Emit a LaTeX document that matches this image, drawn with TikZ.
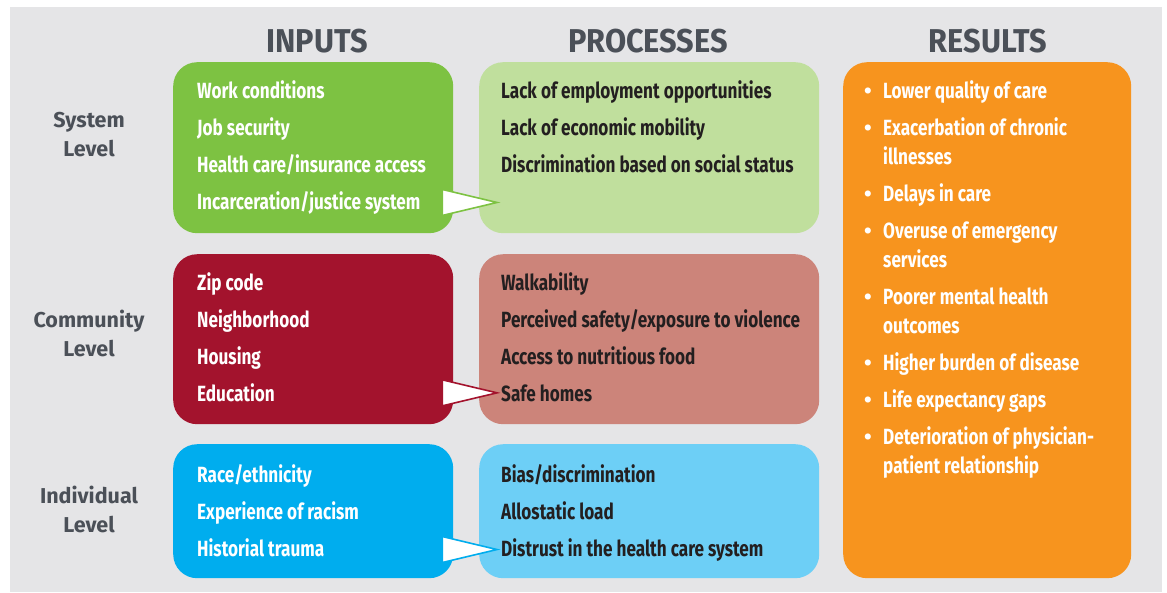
\documentclass[tikz,border=0pt]{standalone}
\usepackage{fontspec}
\setmainfont{Fira Sans}
\newfontfamily\condfont{Fira Sans}[FakeStretch=0.78]
\newfontfamily\headfont{Fira Sans}[FakeStretch=0.93]
\usetikzlibrary{calc}

\definecolor{panel}{HTML}{E5E5E7}
\definecolor{headgray}{HTML}{4B5058}
\definecolor{ingreen}{HTML}{7DC242}
\definecolor{prgreen}{HTML}{C0DF9D}
\definecolor{inred}{HTML}{A3132D}
\definecolor{prred}{HTML}{CC847A}
\definecolor{inblue}{HTML}{00ADEE}
\definecolor{prblue}{HTML}{6DCFF6}
\definecolor{resorange}{HTML}{F7941E}
\definecolor{darktext}{HTML}{231F20}

\tikzset{
  panelbox/.style={anchor=north west, inner sep=0pt, rounded corners=24pt},
  head/.style={anchor=base, inner sep=0pt, text=headgray, font=\headfont\bfseries\fontsize{33}{33}\selectfont},
  lvl/.style={align=center, inner sep=0pt, text=headgray, font=\bfseries\fontsize{21.5}{29}\selectfont},
  itemtext/.style={anchor=base west, inner sep=0pt, font=\condfont\bfseries\fontsize{22}{22}\selectfont},
  intext/.style={itemtext, text=white},
  prtext/.style={itemtext, text=darktext},
  restext/.style={itemtext, text=white},
  bul/.style={anchor=base, inner sep=0pt, text=white, font=\bfseries\fontsize{22}{22}\selectfont},
  flow/.style={fill=white, line width=1.6pt, line join=miter},
}

\begin{document}
\begin{tikzpicture}[x=1pt, y=-1pt]
\useasboundingbox (0,0) rectangle (1167,592);
\fill[white] (0,0) rectangle (1167,592);
\fill[panel] (10,7) rectangle (1162,592);

% column headers
\node[head] (hin) at (317,52) {INPUTS};
\node[head] (hpr) at (648,52) {PROCESSES};
\node[head] (hre) at (988,52) {RESULTS};

% row labels
\node[lvl] (lsys) at (89,134.5) {System\\Level};
\node[lvl] (lcom) at (89,333.5) {Community\\Level};
\node[lvl] (lind) at (89,509.5) {Individual\\Level};

% boxes
\node[panelbox, fill=ingreen, minimum width=280pt, minimum height=171pt] (ig) at (173,62) {};
\node[panelbox, fill=prgreen, minimum width=340pt, minimum height=171pt] (pg) at (479,62) {};
\node[panelbox, fill=inred, minimum width=280pt, minimum height=170pt] (ir) at (173,254) {};
\node[panelbox, fill=prred, minimum width=340pt, minimum height=170pt] (pr) at (479,254) {};
\node[panelbox, fill=inblue, minimum width=280pt, minimum height=134pt] (ib) at (173,444) {};
\node[panelbox, fill=prblue, minimum width=340pt, minimum height=134pt] (pb) at (479,444) {};
\node[panelbox, fill=resorange, minimum width=288pt, minimum height=516pt] (res) at (843,62) {};

% system level
\node[intext] (ig1) at (197,98) {Work conditions};
\node[intext] (ig2) at (197,135) {Job security};
\node[intext] (ig3) at (197,172) {Health care/insurance access};
\node[intext] (ig4) at (197,209) {Incarceration/justice system};
\node[prtext] (pg1) at (501,98) {Lack of employment opportunities};
\node[prtext] (pg2) at (501,135) {Lack of economic mobility};
\node[prtext] (pg3) at (501,172) {Discrimination based on social status};

% community level
\node[intext] (ir1) at (197,290) {Zip code};
\node[intext] (ir2) at (197,327) {Neighborhood};
\node[intext] (ir3) at (197,364) {Housing};
\node[intext] (ir4) at (197,401) {Education};
\node[prtext] (pr1) at (501,290) {Walkability};
\node[prtext] (pr2) at (501,327) {Perceived safety/exposure to violence};
\node[prtext] (pr3) at (501,364) {Access to nutritious food};
\node[prtext] (pr4) at (501,401) {Safe homes};

% individual level
\node[intext] (ib1) at (197,482) {Race/ethnicity};
\node[intext] (ib2) at (197,519) {Experience of racism};
\node[intext] (ib3) at (197,556) {Historial trauma};
\node[prtext] (pb1) at (501,482) {Bias/discrimination};
\node[prtext] (pb2) at (501,519) {Allostatic load};
\node[prtext] (pb3) at (501,556) {Distrust in the health care system};

% results list
\foreach \n/\y in {1/98,2/135,3/201,4/238,5/304,6/370,7/407,8/444}
  \node[bul] (b\n) at (868,\y) {\textbullet};
\node[restext] (r1) at (883,98) {Lower quality of care};
\node[restext] (r2) at (883,135) {Exacerbation of chronic};
\node[restext] (r2b) at (883,164) {illnesses};
\node[restext] (r3) at (883,201) {Delays in care};
\node[restext] (r4) at (883,238) {Overuse of emergency};
\node[restext] (r4b) at (883,267) {services};
\node[restext] (r5) at (883,304) {Poorer mental health};
\node[restext] (r5b) at (883,333) {outcomes};
\node[restext] (r6) at (883,370) {Higher burden of disease};
\node[restext] (r7) at (883,407) {Life expectancy gaps};
\node[restext] (r8) at (883,444) {Deterioration of physician-};
\node[restext] (r8b) at (883,473) {patient relationship};

% flow pointers from inputs into processes
\draw[flow, draw=ingreen]
  ($(ig.east |- ig4.center)+(-11,-13)$) -- ($(pg.west |- ig4.center)+(18,0)$)
  -- ($(ig.east |- ig4.center)+(-11,13)$) -- cycle;
\draw[flow, draw=inred]
  ($(ir.east |- pr4.center)+(-11,-13)$) -- ($(pr.west |- pr4.center)+(18,0)$)
  -- ($(ir.east |- pr4.center)+(-11,13)$) -- cycle;
\draw[flow, draw=inblue]
  ($(ib.east |- pb3.center)+(-11,-13)$) -- ($(pb.west |- pb3.center)+(18,0)$)
  -- ($(ib.east |- pb3.center)+(-11,13)$) -- cycle;
\end{tikzpicture}
\end{document}
